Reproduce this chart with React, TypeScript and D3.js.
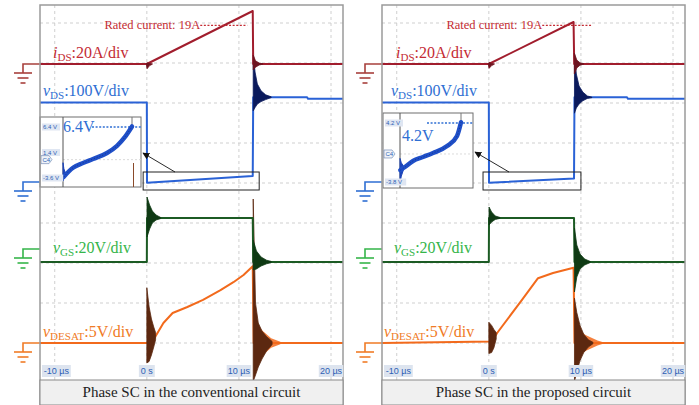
import React from "react";
import * as d3 from "d3";

type P = [number, number];
type E = [number, number, number];

// ---------------- axis & text ----------------
const timeDomain: [number, number] = [-11.6, 21.3];
const tickTimes = [-10, 0, 10, 20];
const tickLabels = ["-10 µs", "0 s", "10 µs", "20 µs"];
const captions = ["Phase SC in the conventional circuit", "Phase SC in the proposed circuit"];
const chanPrefix = ["i", "v", "v", "v"];
const chanSub = ["DS", "DS", "GS", "DESAT"];
const chanScale = [":20A/div", ":100V/div", ":20V/div", ":5V/div"];
const chanPerDiv = [20, 100, 20, 5];
const ratedText = "Rated current: 19A";
const ratedCurrent = 19.3;

// ---------------- conventional circuit (µs, A / V) ----------------
const convIds: P[] = [[-11.6, 0], [0, 0], [11.5, 26.5], [11.55, 0], [21.3, 0]];
const convIdsOn: E[] = [[-0.05, 0.3, -0.3], [0.02, 0.6, -2.4], [0.3, 0.3, -0.8], [0.6, 0.1, -0.1]];
const convIdsOff: E[] = [[11.55, 4.5, -3], [11.8, 1.6, -1.6], [12.2, 0.5, -0.5], [12.6, 0.1, -0.1]];
const convVds: P[] = [[-11.6, 199], [0, 199], [0.02, -2], [11.5, 15], [11.55, 212], [17.4, 212], [17.5, 208], [21.3, 208]];
const convVdsOff: E[] = [[11.55, 322, 178], [11.75, 275, 186], [12.0, 245, 195], [12.4, 228, 201], [12.9, 218, 206], [13.5, 213, 211]];
const convVgs: P[] = [[-11.6, -6.5], [0, -6.5], [0.02, 15.5], [11.5, 15.5], [11.55, -6.5], [21.3, -6.5]];
const convVgsOn: E[] = [[0.02, 26, 6], [0.3, 22, 10], [0.6, 19, 13], [1.0, 17, 14.5], [1.5, 15.8, 15.2]];
const convVgsOff: E[] = [[11.55, 4.5, -10.5], [11.9, -1, -10], [12.4, -4, -8.5], [13.0, -5.6, -7.4], [13.5, -6.2, -6.8]];
const convVdesat: P[] = [[-11.6, 0], [0.35, 0], [0.9, 0.75], [1.8, 2.5], [2.8, 3.75], [4.4, 4.5], [6.1, 5.4], [8.0, 6.6], [9.4, 7.6], [10.5, 8.5], [11.5, 9.6], [11.6, 0], [21.3, 0]];
const convVdesatOn: E[] = [[0.0, 6.9, -2.5], [0.25, 4.5, -2.3], [0.5, 3.0, -1.5], [0.75, 2.0, -0.5], [0.95, 1.3, 0.4]];
const convVdesatOff: E[] = [[11.55, 18, -4.8], [11.8, 5, -4], [12.1, 2.5, -3], [12.5, 1.5, -2], [13.0, 0.8, -1], [13.6, 0.2, -0.2]];
const convVdesatGlow: E[] = [[11.6, 3, -2.2], [12.5, 1.6, -1.6], [13.5, 0.6, -0.6], [14.5, 0.15, -0.15]];
const convInset: P[] = [[0.1, -3.4], [1.67, -1.6], [3.33, -0.66], [5.0, 0.13], [7.33, 1.3], [9.0, 2.7], [10.3, 4.4], [11.5, 6.5]];
const convInsetSpike: E[] = [[0, -0.6, -4.2], [0.15, -1.8, -3.6], [0.4, -2.6, -3.0]];
const convInsetTags = [6.4, 1.4, -3.6];
const convInsetTagText = ["6.4 V", "1.4 V", "-3.6 V"];
const convInsetValue = "6.4V";

// ---------------- proposed circuit ----------------
const propIds: P[] = [[-11.6, 0], [0, 0], [9.2, 21], [9.27, 0], [21.3, 0]];
const propIdsOn: E[] = [[-0.05, 0.3, -0.3], [0.02, 0.8, -2.2], [0.3, 0.3, -0.8], [0.6, 0.1, -0.1]];
const propIdsOff: E[] = [[9.28, 5.5, -5], [9.55, 2, -2], [9.9, 0.6, -0.6], [10.3, 0.1, -0.1]];
const propVds: P[] = [[-11.6, 199], [0, 199], [0.02, -2], [9.25, 8.5], [9.3, 212], [15.0, 212], [15.1, 208], [21.3, 208]];
const propVdsOff: E[] = [[9.3, 322, 172], [9.5, 270, 185], [9.8, 240, 195], [10.2, 225, 203], [10.7, 215, 209], [11.2, 212, 211]];
const propVgs: P[] = [[-11.6, -6.5], [0, -6.5], [0.02, 15.5], [9.25, 15.5], [9.3, -6.5], [21.3, -6.5]];
const propVgsOn: E[] = [[0.02, 21, 12], [0.3, 18.5, 13.5], [0.7, 16.5, 14.8], [1.2, 15.8, 15.3]];
const propVgsOff: E[] = [[9.3, 10.5, -21.5], [9.55, 2, -14], [9.9, -2.5, -10], [10.4, -5, -8], [11.0, -6.2, -6.8]];
const propVdesat: P[] = [[-11.6, 0], [0.35, 0.2], [0.9, 1.25], [3.6, 5.4], [5.34, 8.1], [6.97, 8.75], [9.2, 9.4], [9.3, 0], [21.3, 0]];
const propVdesatOn: E[] = [[0.0, 2.6, -1.3], [0.3, 2.2, -1.2], [0.55, 1.7, -0.6], [0.8, 1.3, 0.5]];
const propVdesatOff: E[] = [[9.3, 5.6, -4.8], [9.55, 3.8, -3.6], [9.9, 2.2, -2.2], [10.3, 1.1, -1.2], [10.8, 0.4, -0.5], [11.3, 0.1, -0.1]];
const propVdesatGlow: E[] = [[9.4, 2, -2], [10.5, 1, -1], [11.8, 0.3, -0.3], [12.5, 0.05, -0.05]];
const propInset: P[] = [[0.05, -2.2], [0.75, -1.77], [1.96, -0.95], [3.47, -0.41], [4.98, 0.13], [7.1, 1.08], [8.6, 2.44], [9.2, 4.3]];
const propInsetSpike: E[] = [[0, -0.6, -3.9], [0.2, -1.2, -3.0], [0.5, -1.6, -2.2]];
const propInsetTags = [4.2, -3.8];
const propInsetTagText = ["4.2 V", "-3.8 V"];
const propInsetValue = "4.2V";

// ---------------- layout / style ----------------
const DIV = 40;
const FR = { left: 40, right: 343, top: 5, bottom: 380, capBottom: 405 };
const PANEL_DX = 342;
const CH = [
  { ground: 64, labelY: 58, color: "#a11d2d", ring: "#6e1420", label: "#c42b33", gnd: "#a8403c" },
  { ground: 182, labelY: 96, color: "#2a62d6", ring: "#0b1a5c", label: "#2f6fd3", gnd: "#2f6fd3" },
  { ground: 249, labelY: 253, color: "#1c5b24", ring: "#0f3a14", label: "#35b54a", gnd: "#35b54a" },
  { ground: 343, labelY: 337, color: "#f26a1c", ring: "#5c2810", label: "#f07b26", gnd: "#f07b26" },
];

const PANELS = [
  {
    traces: [convIds, convVds, convVgs, convVdesat],
    rings: [[convIdsOn, convIdsOff], [convVdsOff], [convVgsOn, convVgsOff], [convVdesatOn, convVdesatOff]],
    glow: convVdesatGlow,
    labelX: [13, 3, 13, 3],
    rated: [5.8, 10.9],
    zoomT: [-0.4, 12.2],
    arrow: [175, 172, 143, 153],
    inset: {
      box: [40, 117, 141, 187], x0: 63, x1: 132, tOff: 11.5, vTop: 6.4, yTop: 127, vBot: -3.6, yBot: 178,
      bigX: 63, bigY: 132, dot: [92, 141], trace: convInset, spike: convInsetSpike,
      tags: convInsetTags, tagText: convInsetTagText, value: convInsetValue, brown: true,
    },
  },
  {
    traces: [propIds, propVds, propVgs, propVdesat],
    rings: [[propIdsOn, propIdsOff], [propVdsOff], [propVgsOn, propVgsOff], [propVdesatOn, propVdesatOff]],
    glow: propVdesatGlow,
    labelX: [14, 9, 12, 2],
    rated: [5.8, 11.1],
    zoomT: [-0.63, 10.0],
    arrow: [167, 172, 133, 152],
    inset: {
      box: [41, 113, 131, 188], x0: 58, x1: 119, tOff: 9.2, vTop: 4.2, yTop: 123, vBot: -3.8, yBot: 182,
      bigX: 60, bigY: 141, dot: [85, 131], trace: propInset, spike: propInsetSpike,
      tags: propInsetTags, tagText: propInsetTagText, value: propInsetValue, brown: false,
    },
  },
];

function Ground({ x, y, color }: { x: number; y: number; color: string }) {
  const gx = x - 17;
  return (
    <g stroke={color} strokeWidth={1.6} fill="none">
      <path d={`M${x},${y}H${gx}V${y + 9}`} />
      <line x1={gx - 9} x2={gx + 9} y1={y + 9} y2={y + 9} />
      <line x1={gx - 5.5} x2={gx + 5.5} y1={y + 14} y2={y + 14} />
      <line x1={gx - 2.5} x2={gx + 2.5} y1={y + 19} y2={y + 19} />
    </g>
  );
}

function Panel({ idx }: { idx: number }) {
  const p = PANELS[idx];
  const ox = idx * PANEL_DX;
  const fl = ox + FR.left;
  const fr = ox + FR.right;
  const x = d3.scaleLinear().domain(timeDomain).range([fl, fr]);
  const ys = CH.map((c, i) => d3.scaleLinear().domain([0, chanPerDiv[i]]).range([c.ground, c.ground - DIV]));
  const clipId = `clip-${idx}`;
  const gridY = d3.range(9).map((k) => 23 + k * DIV);

  const lineFor = (sy: d3.ScaleLinear<number, number>) =>
    d3.line<P>().x((d) => x(d[0])).y((d) => sy(d[1]));
  const areaFor = (sy: d3.ScaleLinear<number, number>) =>
    d3.area<E>().x((d) => x(d[0])).y0((d) => sy(d[2])).y1((d) => sy(d[1]));

  // inset
  const ins = p.inset;
  const ix = d3.scaleLinear().domain([0, ins.tOff]).range([ox + ins.x0, ox + ins.x1]);
  const iy = d3.scaleLinear().domain([ins.vBot, ins.vTop]).range([ins.yBot, ins.yTop]);
  const insLine = d3.line<P>().x((d) => ix(d[0])).y((d) => iy(d[1])).curve(d3.curveMonotoneX);
  const insArea = d3.area<E>().x((d) => ix(d[0])).y0((d) => iy(d[2])).y1((d) => iy(d[1]));
  const [bx0, by0, bx1, by1] = ins.box;

  const ratedY = ys[0](ratedCurrent);
  const textW = (s: string) => s.length * 4.3 + 3;

  return (
    <g>
      <defs>
        <clipPath id={clipId}>
          <rect x={fl} y={FR.top} width={fr - fl} height={FR.bottom - FR.top} />
        </clipPath>
      </defs>
      {/* background frame */}
      <rect x={fl} y={FR.top} width={fr - fl} height={FR.bottom - FR.top} fill="#ffffff" />
      {/* grid */}
      <g stroke="#c9c9c9" strokeWidth={0.9} strokeDasharray="3,3">
        {tickTimes.map((t) => (
          <line key={t} x1={x(t)} x2={x(t)} y1={FR.top} y2={FR.bottom} />
        ))}
        {gridY.map((gy) => (
          <line key={gy} x1={fl} x2={fr} y1={gy} y2={gy} />
        ))}
      </g>

      {/* traces */}
      <g clipPath={`url(#${clipId})`}>
        <path d={areaFor(ys[3])(p.glow) || ""} fill={CH[3].color} opacity={0.85} />
        {[3, 2, 1, 0].map((i) => (
          <g key={i}>
            <path d={lineFor(ys[i])(p.traces[i]) || ""} fill="none" stroke={CH[i].color} strokeWidth={2} strokeLinejoin="round" />
            {p.rings[i].map((r, k) => (
              <path key={k} d={areaFor(ys[i])(r) || ""} fill={CH[i].ring} stroke={CH[i].ring} strokeWidth={0.8} />
            ))}
          </g>
        ))}
      </g>

      {/* channel labels */}
      {CH.map((c, i) => (
        <text key={i} x={fl + p.labelX[i]} y={c.labelY} fontFamily="'Liberation Serif', 'Times New Roman', serif" fontSize={16} fill={c.label}>
          <tspan fontStyle="italic">{chanPrefix[i]}</tspan>
          <tspan fontSize={11} dy={3}>{chanSub[i]}</tspan>
          <tspan dy={-3}>{chanScale[i]}</tspan>
        </text>
      ))}

      {/* ground markers */}
      {CH.map((c, i) => (
        <Ground key={i} x={fl} y={c.ground} color={c.gnd} />
      ))}

      {/* rated current */}
      <text x={x(p.rated[0])} y={ratedY + 4} textAnchor="end" fontFamily="'Liberation Serif', serif" fontSize={12.5} fill="#c42b33">
        {ratedText}
      </text>
      <line x1={x(p.rated[0])} x2={x(p.rated[1])} y1={ratedY} y2={ratedY} stroke="#c42b33" strokeWidth={1.3} strokeDasharray="2,1.6" />

      {/* zoom rectangle & arrow */}
      <rect x={x(p.zoomT[0])} y={172} width={x(p.zoomT[1]) - x(p.zoomT[0])} height={18} fill="none" stroke="#222" strokeWidth={1} />
      <line x1={ox + p.arrow[0]} y1={p.arrow[1]} x2={ox + p.arrow[2]} y2={p.arrow[3]} stroke="#111" strokeWidth={0.9} markerEnd="url(#arrowHead)" />

      {/* inset */}
      <g>
        <rect x={ox + bx0} y={by0} width={bx1 - bx0} height={by1 - by0} fill="#ffffff" stroke="#6f6f6f" strokeWidth={1} />
        <line x1={ox + ins.x0} x2={ox + bx1} y1={iy(0)} y2={iy(0)} stroke="#d0d0d0" strokeWidth={0.8} strokeDasharray="2,2" />
        <line x1={ox + ins.x0} x2={ox + ins.x0} y1={by0} y2={by1} stroke="#555" strokeWidth={1} />
        <line x1={ox + ins.x1} x2={ox + ins.x1} y1={by0} y2={iy(ins.vTop) + 2} stroke="#777" strokeWidth={1} />
        {ins.brown && <line x1={ox + ins.x1 + 1.5} x2={ox + ins.x1 + 1.5} y1={163} y2={by1} stroke="#8a4a2a" strokeWidth={1} />}
        <line x1={ox + ins.dot[0]} x2={ox + ins.dot[1]} y1={iy(ins.vTop)} y2={iy(ins.vTop)} stroke="#2f6fd3" strokeWidth={1.3} strokeDasharray="2,1.6" />
        <path d={insArea(ins.spike) || ""} fill="#1d45b8" stroke="#1d45b8" strokeWidth={1} />
        <path d={insLine(ins.trace) || ""} fill="none" stroke="#1f4fc8" strokeWidth={4.5} strokeLinecap="round" />
        <path d={insLine(ins.trace) || ""} fill="none" stroke="#16358f" strokeWidth={1} strokeDasharray="1,2" />
        <text x={ox + ins.bigX} y={ins.bigY} fontFamily="'Liberation Serif', serif" fontSize={16} fill="#2f6fd3">
          {ins.value}
        </text>
        {ins.tags.map((v, k) => (
          <g key={k}>
            <rect x={ox + bx0 + 2} y={iy(v) - 3.5} width={ins.tagText[k].length * 3.2 + 2} height={7} fill="#dfe6f2" />
            <text x={ox + bx0 + 3} y={iy(v) + 2.2} fontFamily="'Liberation Sans', Arial, sans-serif" fontSize={6} fill="#2d5fb5">
              {ins.tagText[k]}
            </text>
          </g>
        ))}
        <path
          d={`M${ox + bx0 + 1},${iy(0) - 4}h8l3,4l-3,4h-8z`}
          fill="#eef2f8"
          stroke="#7a8fb8"
          strokeWidth={0.7}
        />
        <text x={ox + bx0 + 2.5} y={iy(0) + 2.2} fontFamily="'Liberation Sans', Arial, sans-serif" fontSize={6} fill="#2d5fb5">
          C4
        </text>
      </g>

      {/* frame */}
      <rect x={fl} y={FR.top} width={fr - fl} height={FR.capBottom - FR.top} fill="none" stroke="#9a9a9a" strokeWidth={1.5} />

      {/* time tick labels */}
      {tickTimes.map((t, k) => {
        const w = textW(tickLabels[k]);
        const cx = Math.max(x(t), fl + 2 + w / 2);
        return (
          <g key={t}>
            <rect x={cx - w / 2} y={365} width={w} height={12} fill="#dde4ef" />
            <text x={cx} y={374} textAnchor="middle" fontFamily="'Liberation Sans', Arial, sans-serif" fontSize={9} fill="#2d5fb5">
              {tickLabels[k]}
            </text>
          </g>
        );
      })}

      {/* caption */}
      <rect x={fl} y={FR.bottom} width={fr - fl} height={FR.capBottom - FR.bottom} fill="#f0f0f0" stroke="#8a8a8a" strokeWidth={1} />
      <text x={(fl + fr) / 2} y={397} textAnchor="middle" fontFamily="'Liberation Serif', 'Times New Roman', serif" fontSize={15} fill="#222">
        {captions[idx]}
      </text>
    </g>
  );
}

export default function App() {
  return (
    <svg width={699} height={405} viewBox="0 0 699 405" style={{ position: "absolute", left: 0, top: 0, display: "block", background: "#fff" }}>
      <defs>
        <marker id="arrowHead" viewBox="0 0 10 10" refX={9} refY={5} markerWidth={7} markerHeight={7} orient="auto" markerUnits="userSpaceOnUse">
          <path d="M0,0 L10,5 L0,10 z" fill="#111" />
        </marker>
      </defs>
      <rect x={0} y={0} width={699} height={405} fill="#fff" />
      <Panel idx={0} />
      <Panel idx={1} />
    </svg>
  );
}
